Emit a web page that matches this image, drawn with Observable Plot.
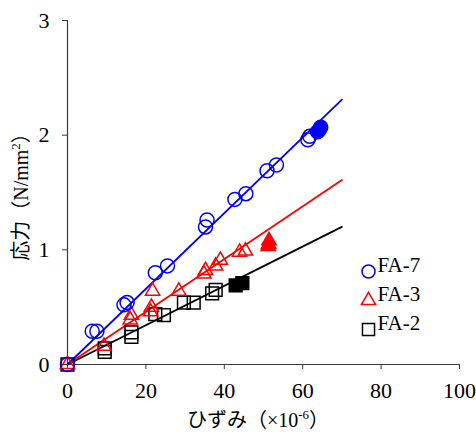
<!DOCTYPE html>
<html>
<head>
<meta charset="utf-8">
<script src="https://cdn.jsdelivr.net/npm/d3@7"></script>
<script src="https://cdn.jsdelivr.net/npm/@observablehq/plot@0.6"></script>
<style>
  html, body { margin: 0; padding: 0; background: #fff; }
  #chart { width: 476px; height: 435px; }
</style>
</head>
<body>
<div id="chart"></div>
<script>
// Stress–strain measurements for three specimens (open = loading steps, filled = final step)
const fa7Strain = [0, 6.3, 7.5, 14.4, 15.2, 22.4, 25.5, 35.2, 35.6, 42.7, 45.5, 50.9, 53.3, 61.3, 61.8];
const fa7Stress = [0, 0.29, 0.29, 0.52, 0.54, 0.80, 0.86, 1.20, 1.26, 1.44, 1.49, 1.69, 1.74, 1.96, 1.99];
const fa7FinalStrain = [63.8, 64.3, 64.6];
const fa7FinalStress = [2.03, 2.05, 2.07];

const fa3Strain = [0, 9.3, 16.0, 16.3, 21.2, 21.4, 21.7, 28.4, 34.8, 35.2, 37.8, 39.0, 43.9, 45.4];
const fa3Stress = [0, 0.16, 0.39, 0.43, 0.46, 0.50, 0.64, 0.64, 0.79, 0.82, 0.86, 0.91, 0.98, 0.99];
const fa3FinalStrain = [51.2, 51.3, 51.4];
const fa3FinalStress = [1.03, 1.05, 1.08];

const fa2Strain = [0, 9.5, 9.5, 16.3, 16.3, 22.4, 24.6, 29.7, 32.2, 36.9, 37.8];
const fa2Stress = [0, 0.14, 0.11, 0.28, 0.24, 0.44, 0.43, 0.54, 0.54, 0.62, 0.65];
const fa2FinalStrain = [42.9, 44.6];
const fa2FinalStress = [0.69, 0.71];

// Fitted lines through the origin, drawn up to strain 70
const fitStrain = [0, 70];
const fa7Fit = [0, 2.31];
const fa3Fit = [0, 1.61];
const fa2Fit = [0, 1.20];

const seriesNames = ["FA-7", "FA-3", "FA-2"];
const xTicks = [0, 20, 40, 60, 80, 100];
const yTicks = [0, 1, 2, 3];

const serif = "'Liberation Serif', 'Times New Roman', Times, 'DejaVu Serif', serif";
const cjk = "'Noto Sans CJK JP', 'Noto Sans CJK SC', sans-serif";
const axisGray = "#3a3a3a";

const pts = (xs, ys) => xs.map((x, i) => ({x, y: ys[i]}));
const legendText = (name, dy) =>
  Plot.text([name], {text: d => d, frameAnchor: "bottom-right", dx: -82, dy, textAnchor: "start",
    fontSize: 21, fill: "#000"});

const svg = Plot.plot({
  width: 476,
  height: 435,
  marginLeft: 67,
  marginRight: 17,
  marginTop: 20,
  marginBottom: 71,
  style: {fontSize: "21px", color: "#000", background: "#fff"},
  x: {domain: [0, 100]},
  y: {domain: [0, 3]},
  marks: [
    Plot.axisX({ticks: xTicks, tickFormat: d3.format("d"), tickSize: 5, tickPadding: 13, fontSize: 22, stroke: axisGray, fill: "#000", label: null}),
    Plot.axisY({ticks: yTicks, tickFormat: d3.format("d"), tickSize: 5, tickPadding: 13, fontSize: 22, stroke: axisGray, fill: "#000", label: null}),
    Plot.ruleX([0], {y1: 0, y2: 3, stroke: axisGray, strokeWidth: 1.2}),
    Plot.ruleY([0], {x1: 0, x2: 100, stroke: axisGray, strokeWidth: 1.2}),

    Plot.line(pts(fitStrain, fa2Fit), {x: "x", y: "y", stroke: "#000", strokeWidth: 1.8}),
    Plot.line(pts(fitStrain, fa3Fit), {x: "x", y: "y", stroke: "#ff0000", strokeWidth: 1.8}),
    Plot.line(pts(fitStrain, fa7Fit), {x: "x", y: "y", stroke: "#0000ff", strokeWidth: 1.8}),

    Plot.dot(pts(fa2Strain, fa2Stress), {x: "x", y: "y", symbol: "square", r: 7.2, stroke: "#000", strokeWidth: 1.5, fill: "none"}),
    Plot.dot(pts(fa2FinalStrain, fa2FinalStress), {x: "x", y: "y", symbol: "square", r: 7.2, stroke: "#000", strokeWidth: 1.5, fill: "#000"}),
    Plot.dot(pts(fa3Strain, fa3Stress), {x: "x", y: "y", symbol: "triangle", r: 5.3, stroke: "#ff0000", strokeWidth: 1.5, fill: "none"}),
    Plot.dot(pts(fa3FinalStrain, fa3FinalStress), {x: "x", y: "y", symbol: "triangle", r: 5.3, stroke: "#ff0000", strokeWidth: 1.5, fill: "#ff0000"}),
    Plot.dot(pts(fa7Strain, fa7Stress), {x: "x", y: "y", symbol: "circle", r: 7, stroke: "#0000ff", strokeWidth: 1.5, fill: "none"}),
    Plot.dot(pts(fa7FinalStrain, fa7FinalStress), {x: "x", y: "y", symbol: "circle", r: 7, stroke: "#0000ff", strokeWidth: 1.5, fill: "#0000ff"}),

    // Legend, anchored to the lower right of the frame
    Plot.dot([seriesNames[0]], {frameAnchor: "bottom-right", dx: -91, dy: -93, symbol: "circle", r: 6.5, stroke: "#0000ff", strokeWidth: 1.5, fill: "none"}),
    Plot.dot([seriesNames[1]], {frameAnchor: "bottom-right", dx: -91, dy: -64, symbol: "triangle", r: 5.3, stroke: "#ff0000", strokeWidth: 1.5, fill: "none"}),
    Plot.dot([seriesNames[2]], {frameAnchor: "bottom-right", dx: -91, dy: -35, symbol: "square", r: 6.8, stroke: "#000", strokeWidth: 1.5, fill: "none"}),
    legendText(seriesNames[0], -93),
    legendText(seriesNames[1], -64),
    legendText(seriesNames[2], -35)
  ]
});

// Serif face for all numeric and legend text
svg.style.fontFamily = serif;
d3.select(svg).selectAll("g").attr("font-family", null);
d3.select(svg).selectAll("text").style("font-family", serif);

// Axis titles with superscripts
const s = d3.select(svg);
const xl = s.append("text")
  .attr("x", 258).attr("y", 427)
  .attr("text-anchor", "middle")
  .style("font-size", "20px")
  .attr("fill", "#000");
xl.append("tspan").style("font-family", cjk).text("ひずみ（");
xl.append("tspan").style("font-family", serif).text("×10");
xl.append("tspan").style("font-family", serif).style("font-size", "13px").attr("dy", -8).text("-6");
xl.append("tspan").style("font-family", cjk).attr("dy", 8).text("）");

const yl = s.append("text")
  .attr("transform", "translate(28,192) rotate(-90)")
  .attr("text-anchor", "middle")
  .style("font-size", "20px")
  .attr("fill", "#000");
yl.append("tspan").style("font-family", cjk).text("応力（");
yl.append("tspan").style("font-family", serif).text("N/mm");
yl.append("tspan").style("font-family", serif).style("font-size", "13px").attr("dy", -8).text("2");
yl.append("tspan").style("font-family", cjk).attr("dy", 8).text("）");

document.getElementById("chart").appendChild(svg);
</script>
</body>
</html>
